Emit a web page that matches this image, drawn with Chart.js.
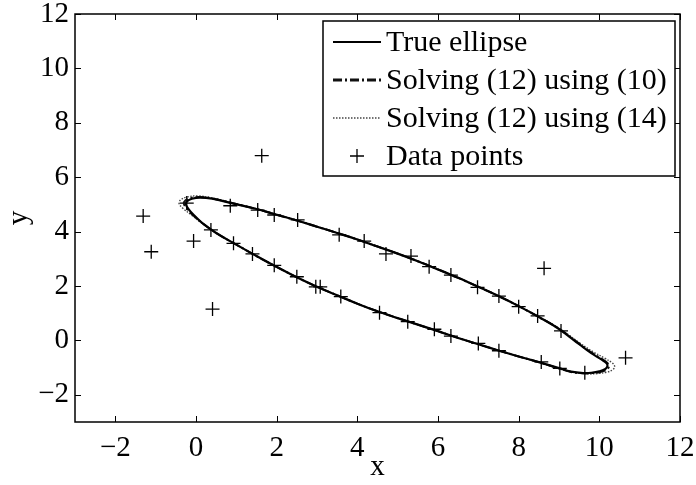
<!DOCTYPE html>
<html>
<head>
<meta charset="utf-8">
<script src="https://cdn.jsdelivr.net/npm/chart.js@4"></script>
<style>
  html, body { margin: 0; padding: 0; background: #fff; }
  #wrap { width: 696px; height: 485px; }
</style>
</head>
<body>
<div id="wrap"><canvas id="myChart" width="696" height="485"></canvas></div>
<script>
// tick values
const xTickVals = [-2, 0, 2, 4, 6, 8, 10, 12];
const yTickVals = [-2, 0, 2, 4, 6, 8, 10, 12];

// true ellipse (clockwise, starting on the upper branch at x = 2)
const trueX = [2.0, 2.5, 3.0, 3.5, 4.0, 4.5, 5.0, 5.5, 6.0, 6.5, 7.0, 7.5, 8.0, 8.5, 9.0, 9.5, 9.8, 10.05, 10.18, 10.2, 10.14, 10.0, 9.8, 9.6, 9.3, 9.0, 8.5, 8.0, 7.5, 7.0, 6.5, 6.0, 5.5, 5.0, 4.5, 4.0, 3.5, 3.0, 2.5, 2.0, 1.5, 1.0, 0.5, 0.15, -0.05, -0.18, -0.25, -0.22, -0.1, 0.1, 0.4, 0.9, 1.5, 2.0];
const trueY = [4.62, 4.41, 4.18, 3.95, 3.71, 3.45, 3.19, 2.91, 2.61, 2.3, 1.97, 1.63, 1.26, 0.86, 0.42, -0.14, -0.47, -0.7, -0.84, -0.95, -1.06, -1.14, -1.19, -1.2, -1.15, -1.02, -0.8, -0.59, -0.37, -0.14, 0.09, 0.34, 0.58, 0.82, 1.07, 1.35, 1.66, 1.97, 2.32, 2.7, 3.1, 3.52, 3.95, 4.32, 4.6, 4.82, 5.0, 5.12, 5.21, 5.25, 5.21, 5.04, 4.83, 4.62];

// solving (12) using (10)
const fit10X = [2.0, 2.5, 3.0, 3.5, 4.0, 4.5, 5.0, 5.5, 6.0, 6.5, 7.0, 7.5, 8.0, 8.5, 9.0, 9.5, 9.82, 10.08, 10.21, 10.24, 10.18, 10.03, 9.82, 9.6, 9.3, 9.0, 8.5, 8.0, 7.5, 7.0, 6.5, 6.0, 5.5, 5.0, 4.5, 4.0, 3.5, 3.0, 2.5, 2.0, 1.5, 1.0, 0.5, 0.15, -0.07, -0.22, -0.3, -0.26, -0.12, 0.1, 0.4, 0.9, 1.5, 2.0];
const fit10Y = [4.62, 4.41, 4.18, 3.95, 3.71, 3.45, 3.19, 2.91, 2.61, 2.3, 1.97, 1.63, 1.26, 0.86, 0.43, -0.12, -0.46, -0.7, -0.85, -0.96, -1.08, -1.16, -1.2, -1.21, -1.16, -1.03, -0.8, -0.59, -0.37, -0.14, 0.09, 0.34, 0.58, 0.82, 1.07, 1.35, 1.66, 1.97, 2.32, 2.7, 3.1, 3.52, 3.95, 4.32, 4.6, 4.83, 5.02, 5.15, 5.24, 5.27, 5.22, 5.05, 4.83, 4.62];

// solving (12) using (14)
const fit14X = [2.0, 2.5, 3.0, 3.5, 4.0, 4.5, 5.0, 5.5, 6.0, 6.5, 7.0, 7.5, 8.0, 8.5, 9.0, 9.5, 9.85, 10.14, 10.32, 10.38, 10.33, 10.18, 9.95, 9.7, 9.4, 9.0, 8.5, 8.0, 7.5, 7.0, 6.5, 6.0, 5.5, 5.0, 4.5, 4.0, 3.5, 3.0, 2.5, 2.0, 1.5, 1.0, 0.5, 0.12, -0.12, -0.32, -0.42, -0.37, -0.2, 0.05, 0.4, 0.9, 1.5, 2.0];
const fit14Y = [4.63, 4.42, 4.19, 3.96, 3.72, 3.46, 3.2, 2.92, 2.62, 2.31, 1.98, 1.64, 1.27, 0.87, 0.45, -0.08, -0.42, -0.66, -0.83, -0.96, -1.08, -1.17, -1.22, -1.23, -1.18, -1.04, -0.81, -0.59, -0.37, -0.14, 0.09, 0.34, 0.58, 0.82, 1.07, 1.35, 1.66, 1.97, 2.32, 2.7, 3.1, 3.52, 3.95, 4.34, 4.62, 4.85, 5.04, 5.18, 5.28, 5.31, 5.24, 5.06, 4.84, 4.63];

// noisy data points
const dataX = [1.63, -1.31, -1.11, -0.06, 0.41, -0.23, 0.85, 1.53, 1.94, 2.52, 3.55, 4.17, 4.71, 5.33, 5.78, 6.32, 6.98, 7.51, 8.0, 8.47, 9.05, 8.63, 10.65, 0.37, 0.93, 1.4, 1.94, 2.5, 2.97, 3.08, 3.59, 4.55, 5.25, 5.91, 6.32, 7.0, 7.51, 8.56, 9.02, 9.64];
const dataY = [6.79, 4.57, 3.26, 3.65, 1.15, 5.05, 4.95, 4.79, 4.61, 4.43, 3.88, 3.65, 3.18, 3.1, 2.71, 2.4, 1.95, 1.63, 1.24, 0.9, 0.35, 2.65, -0.64, 4.06, 3.57, 3.18, 2.76, 2.34, 1.97, 1.97, 1.61, 1.02, 0.69, 0.41, 0.16, -0.11, -0.38, -0.79, -1.03, -1.19];

const seriesLabels = ["True ellipse", "Solving (12) using (10)", "Solving (12) using (14)", "Data points"];

function pts(xs, ys) { return xs.map((x, i) => ({ x: x, y: ys[i] })); }

const fontFam = "'Liberation Serif', 'Times New Roman', serif";
const minus = v => String(v).replace("-", "\u2212");

// box round the plot with inward ticks, MATLAB style
const boxPlugin = {
    id: "box",
    afterDraw(chart) {
        const ctx = chart.ctx;
        const a = chart.chartArea;
        const xs = chart.scales.x, ys = chart.scales.y;
        ctx.save();
        ctx.strokeStyle = "#000";
        ctx.lineWidth = 1.5;
        ctx.strokeRect(a.left, a.top, a.right - a.left, a.bottom - a.top);
        ctx.lineWidth = 1;
        const len = 6;
        ctx.beginPath();
        xTickVals.forEach(v => {
            const px = Math.round(xs.getPixelForValue(v)) + 0.5;
            ctx.moveTo(px, a.bottom); ctx.lineTo(px, a.bottom - len);
            ctx.moveTo(px, a.top); ctx.lineTo(px, a.top + len);
        });
        yTickVals.forEach(v => {
            const py = Math.round(ys.getPixelForValue(v)) + 0.5;
            ctx.moveTo(a.left, py); ctx.lineTo(a.left + len, py);
            ctx.moveTo(a.right, py); ctx.lineTo(a.right - len, py);
        });
        ctx.stroke();
        ctx.restore();
    }
};

// legend box in the upper right corner
const legendPlugin = {
    id: "myLegend",
    afterDraw(chart) {
        const ctx = chart.ctx;
        const L = 323, T = 21, R = 675, B = 176;
        ctx.save();
        ctx.fillStyle = "#fff";
        ctx.fillRect(L, T, R - L, B - T);
        ctx.strokeStyle = "#000";
        ctx.lineWidth = 1.5;
        ctx.strokeRect(L, T, R - L, B - T);
        const rows = [42, 80, 118, 156];
        chart.data.datasets.forEach((ds, i) => {
            const y = rows[i];
            ctx.strokeStyle = ds.borderColor;
            ctx.lineWidth = ds.showLine ? Math.max(ds.borderWidth, 1) + (i === 1 ? 0.8 : 0) : 1.3;
            ctx.setLineDash(ds.borderDash || []);
            ctx.beginPath();
            if (ds.showLine) {
                ctx.moveTo(333, y); ctx.lineTo(381, y);
            } else {
                ctx.moveTo(357 - 7, y); ctx.lineTo(357 + 7, y);
                ctx.moveTo(357, y - 7); ctx.lineTo(357, y + 7);
            }
            ctx.stroke();
            ctx.setLineDash([]);
            ctx.fillStyle = "#000";
            ctx.font = "30px " + fontFam;
            ctx.textBaseline = "middle";
            ctx.fillText(ds.label, 386, y + 1);
        });
        ctx.restore();
    }
};

const ctx = document.getElementById("myChart").getContext("2d");
const chart = new Chart(ctx, {
    type: "scatter",
    data: {
        datasets: [
            {
                label: seriesLabels[0],
                data: pts(trueX, trueY),
                showLine: true,
                borderColor: "#000",
                borderWidth: 2.2,
                pointRadius: 0,
                tension: 0.4
            },
            {
                label: seriesLabels[1],
                data: pts(fit10X, fit10Y),
                showLine: true,
                borderColor: "#111",
                borderWidth: 2,
                borderDash: [9, 3, 2, 3],
                pointRadius: 0,
                tension: 0.4
            },
            {
                label: seriesLabels[2],
                data: pts(fit14X, fit14Y),
                showLine: true,
                borderColor: "#444",
                borderWidth: 1.4,
                borderDash: [1.5, 1.5],
                pointRadius: 0,
                tension: 0.4
            },
            {
                label: seriesLabels[3],
                data: pts(dataX, dataY),
                showLine: false,
                pointStyle: "cross",
                pointRadius: 7,
                pointBorderWidth: 1.3,
                borderColor: "#000",
                backgroundColor: "#000"
            }
        ]
    },
    options: {
        responsive: false,
        animation: false,
        layout: { padding: { top: 14, right: 16, left: 0, bottom: 0 } },
        plugins: { legend: { display: false }, tooltip: { enabled: false } },
        scales: {
            x: {
                type: "linear",
                min: -3, max: 12,
                afterBuildTicks: s => { s.ticks = xTickVals.map(v => ({ value: v })); },
                afterFit: s => { s.height = 63; s.paddingLeft = 0; s.paddingRight = 0; },
                grid: { display: false, drawTicks: false },
                border: { display: false },
                ticks: {
                    color: "#000",
                    padding: 9,
                    maxRotation: 0,
                    font: { family: fontFam, size: 29 },
                    callback: v => minus(v)
                },
                title: {
                    display: true, text: "x", color: "#000",
                    padding: { top: 0, bottom: 0 },
                    font: { family: fontFam, size: 29 }
                }
            },
            y: {
                type: "linear",
                min: -3, max: 12,
                afterBuildTicks: s => { s.ticks = yTickVals.map(v => ({ value: v })); },
                afterFit: s => { s.width = 75; s.paddingTop = 0; s.paddingBottom = 0; },
                grid: { display: false, drawTicks: false },
                border: { display: false },
                ticks: {
                    color: "#000",
                    padding: 6,
                    font: { family: fontFam, size: 29 },
                    callback: v => minus(v)
                },
                title: {
                    display: true, text: "y", color: "#000",
                    padding: { top: 2, bottom: 0 },
                    font: { family: fontFam, size: 29 }
                }
            }
        }
    },
    plugins: [boxPlugin, legendPlugin]
});
</script>
</body>
</html>
